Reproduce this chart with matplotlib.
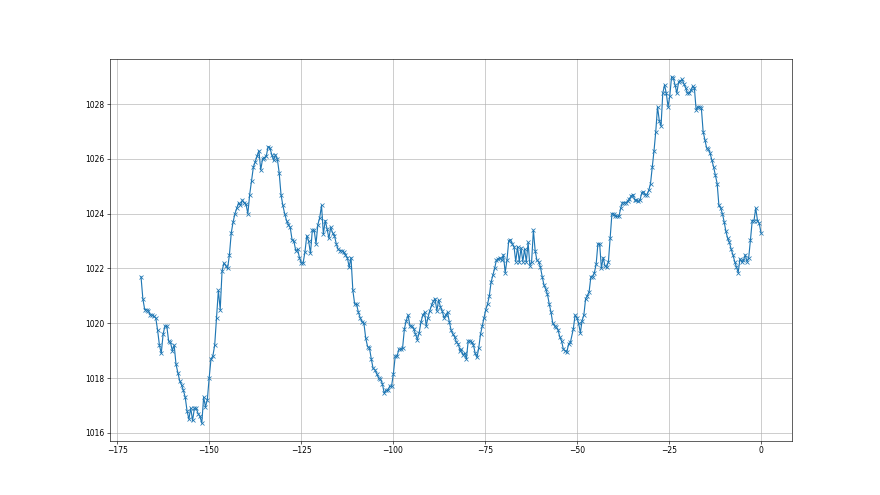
"""Air pressure over the last week (hours before now), one reading about every half hour."""

import numpy as np
from matplotlib import pyplot as plt

# readings, split in stretches so the time axis lines up with the picture
pressure_a = [  # -168.5 h .. -91.4 h
    1021.7, 1020.9, 1020.5, 1020.5, 1020.45, 1020.3, 1020.3, 1020.25, 1020.2, 1019.75,
    1019.2, 1018.9, 1019.6, 1019.9, 1019.9, 1019.35, 1019.3, 1019.0, 1019.2, 1018.5,
    1018.2, 1017.9, 1017.75, 1017.55, 1017.3, 1016.8, 1016.5, 1016.9, 1016.45, 1016.9,
    1016.9, 1016.7, 1016.6, 1016.35, 1017.3, 1016.95, 1017.2, 1018.0, 1018.7,
    1018.8, 1019.2, 1020.2, 1021.2, 1020.5, 1021.9, 1022.2, 1022.1, 1022.0, 1022.5,
    1023.3, 1023.7, 1024.0, 1024.2, 1024.4, 1024.3, 1024.5, 1024.4, 1024.35, 1024.0,
    1024.7, 1025.2, 1025.7, 1025.9, 1026.1, 1026.3, 1025.6, 1026.0, 1026.05, 1026.1,
    1026.45, 1026.4, 1026.15, 1025.95, 1026.15, 1026.0, 1025.5, 1024.7,
    1024.3, 1024.0, 1023.75, 1023.6, 1023.5, 1023.05, 1023.0, 1022.65, 1022.7, 1022.4,
    1022.2, 1022.2, 1022.6, 1023.2, 1023.0, 1022.55, 1023.4, 1023.4, 1022.9, 1023.6,
    1023.85, 1024.3, 1023.25, 1023.75, 1023.45, 1023.1, 1023.5, 1023.3, 1023.2, 1022.9,
    1022.7, 1022.65, 1022.65, 1022.6, 1022.5, 1022.4, 1022.05, 1022.4,
    1021.2, 1020.7, 1020.7, 1020.4, 1020.2, 1020.05, 1020.0, 1019.45, 1019.15, 1019.1,
    1018.7, 1018.35, 1018.3, 1018.15, 1018.0, 1017.95, 1017.8, 1017.45, 1017.55, 1017.55,
    1017.7, 1017.7, 1018.15, 1018.8, 1018.8, 1019.05, 1019.05, 1019.1, 1019.8, 1020.1,
    1020.3, 1019.9, 1019.9, 1019.8, 1019.6, 1019.4, 1019.65, 1020.05, 1020.3, 1020.4,
]
pressure_b = [  # -91.0 h .. -81.8 h
    1019.9, 1020.2, 1020.45, 1020.65, 1020.8, 1020.9, 1020.45, 1020.85, 1020.6, 1020.45,
    1020.2, 1020.3, 1020.4, 1020.05, 1019.75, 1019.6, 1019.5, 1019.3, 1019.25, 1019.0,
]
pressure_c = [  # -81.5 h .. -51.8 h
    1019.05, 1018.85, 1018.9, 1018.7, 1019.35, 1019.35, 1019.3, 1019.2, 1018.9, 1018.75,
    1019.1, 1019.6, 1019.9, 1020.2, 1020.5, 1020.7, 1021.0, 1021.5, 1021.75, 1022.0,
    1022.3, 1022.35, 1022.4, 1022.3, 1022.5, 1021.85, 1022.3, 1023.0, 1023.05, 1022.9,
    1022.8, 1022.25, 1022.8, 1022.25, 1022.75, 1022.25, 1022.7, 1022.25, 1022.95, 1022.1,
    1022.25, 1023.4, 1022.65, 1022.3, 1022.25, 1022.05, 1021.7, 1021.4, 1021.25, 1021.05,
    1020.7, 1020.4, 1020.0, 1019.9, 1019.85, 1019.75, 1019.5, 1019.35, 1019.05, 1019.0,
    1018.95, 1019.25, 1019.3,
]
pressure_d = [  # -51.0 h .. 0 h
    1019.8, 1020.3, 1020.2, 1020.0, 1019.65, 1020.1, 1020.3, 1020.9, 1021.0, 1021.15,
    1021.7, 1021.7, 1021.85, 1022.15, 1022.9, 1022.9, 1022.0, 1022.4, 1022.1, 1022.05,
    1022.25, 1023.1, 1024.0, 1024.0, 1023.9, 1023.9, 1023.9, 1024.2, 1024.4, 1024.4,
    1024.4, 1024.45, 1024.55, 1024.65, 1024.7, 1024.5, 1024.5, 1024.45, 1024.5, 1024.75,
    1024.8, 1024.7, 1024.7, 1024.85, 1025.1, 1025.7, 1026.3, 1027.0, 1027.9, 1027.4,
    1027.2, 1028.4, 1028.7, 1028.4, 1027.9, 1028.3, 1029.0, 1028.95, 1028.7, 1028.4,
    1028.8, 1028.85, 1028.9, 1028.75, 1028.6, 1028.4, 1028.4, 1028.5, 1028.65, 1028.6,
    1027.8, 1027.9, 1027.9, 1027.85, 1027.0, 1026.7, 1026.4, 1026.35, 1026.2, 1025.95,
    1025.7, 1025.4, 1025.1, 1024.3, 1024.2, 1024.0, 1023.7, 1023.35, 1023.1, 1022.95,
    1022.7, 1022.5, 1022.25, 1022.05, 1021.85, 1022.35, 1022.25, 1022.3, 1022.5, 1022.25,
    1022.4, 1023.05, 1023.75, 1023.75, 1024.2, 1023.75, 1023.65, 1023.3,
]
# first and last hour of each stretch
spans = [(-168.5, -91.4), (-91.0, -81.8), (-81.5, -51.8), (-51.0, 0.0)]


def build_series():
    "Joins the stretches into one time axis and one pressure array"
    parts = [pressure_a, pressure_b, pressure_c, pressure_d]
    hours = np.concatenate([np.linspace(s, e, len(p)) for (s, e), p in zip(spans, parts)])
    values = np.concatenate([np.array(p) for p in parts])
    return hours, values


def main():
    hours, values = build_series()
    fig = plt.figure(figsize=(16, 9), dpi=55)
    plt.plot(hours, values, '-x')
    plt.grid(True)
    fig.savefig('out.png', dpi=55)


main()
